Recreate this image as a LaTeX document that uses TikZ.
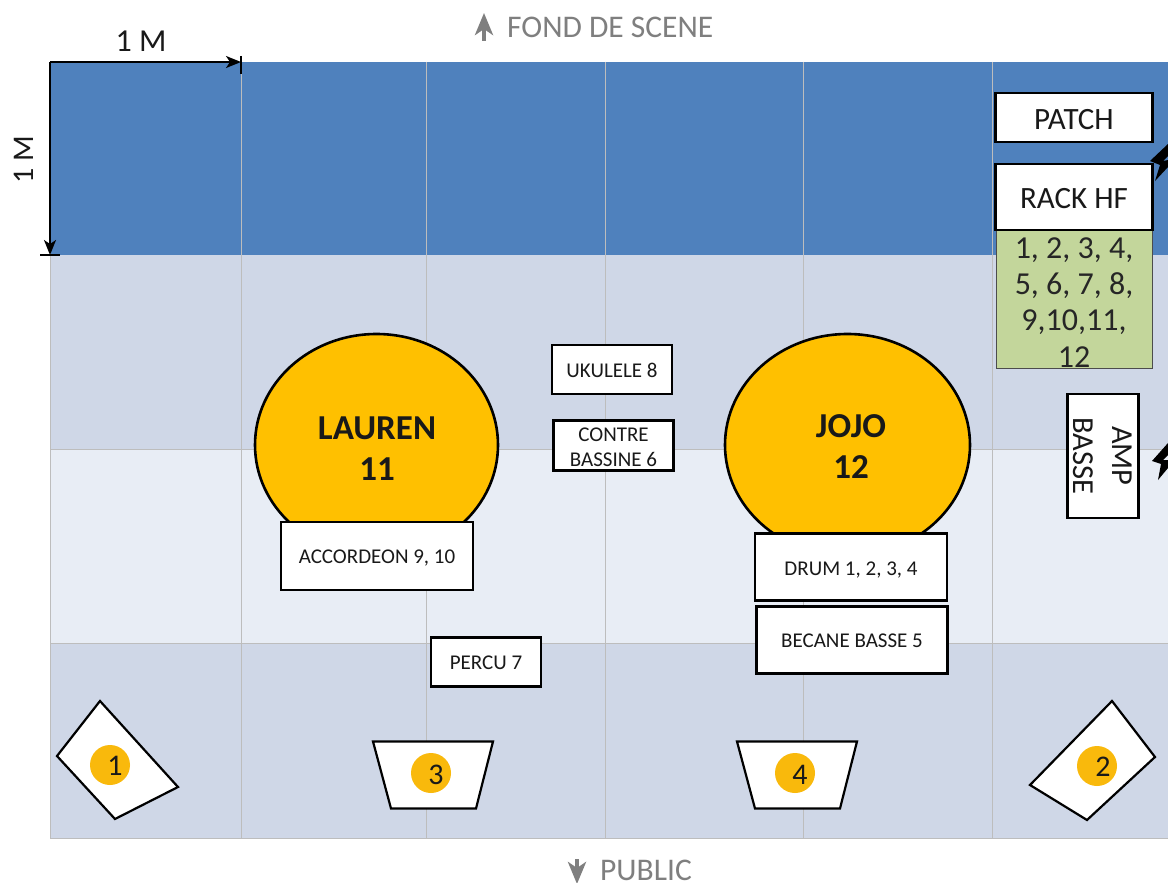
\documentclass[tikz,border=0pt]{standalone}
\usepackage{fontspec}
\setmainfont{Carlito}
\usetikzlibrary{arrows.meta,shapes.geometric}
\definecolor{band1}{HTML}{4F81BD}
\definecolor{band2}{HTML}{CFD7E7}
\definecolor{band3}{HTML}{E8EDF5}
\definecolor{gridc}{HTML}{BDBDBD}
\definecolor{amber}{HTML}{FFC000}
\definecolor{badgec}{HTML}{F9B90C}
\definecolor{greenb}{HTML}{C3D69B}
\definecolor{greyt}{HTML}{7F7F7F}
\newcommand{\dnt}[2]{\raisebox{-#1pt}[\height][\depth]{#2}}
\tikzset{
 boxn/.style={draw=black,line width=2.5pt,fill=white,align=center,inner sep=0pt,text=black!90},
 bign/.style={boxn,font=\fontsize{31}{38}\selectfont},
 smalln/.style={boxn,font=\fontsize{21}{25}\selectfont},
 person/.style={draw=black,line width=2.6pt,fill=amber,ellipse,inner sep=0pt},
 persont/.style={font=\fontsize{35}{41}\selectfont\bfseries,align=center,inner sep=0pt,text=black!90},
 monitor/.style={draw=black,line width=2.2pt,fill=white,line join=miter},
 badge/.style={circle,fill=badgec,inner sep=0pt,minimum size=40pt},
 numt/.style={inner sep=0pt,font=\fontsize{30}{32}\selectfont,text=black!90},
 gridl/.style={gridc,line width=0.9pt},
 dim/.style={black,line width=2pt,-{Stealth[length=15pt,width=12pt,inset=4pt]}},
 tick/.style={black,line width=2.4pt},
 dirl/.style={font=\fontsize{31.5}{34}\selectfont,text=greyt,inner sep=0pt},
 dirw/.style={greyt,line width=4.5pt,-{Stealth[length=22pt,width=18pt,inset=6pt]}},
 bolt/.style={fill=black,draw=none}
}
\begin{document}
\begin{tikzpicture}[x=1pt,y=-1pt]
\useasboundingbox (0,0) rectangle (1168,883);
\fill[white] (0,0) rectangle (1168,883);
% bands
\fill[band1] (50,62) rectangle (1168,255);
\fill[band2] (50,255) rectangle (1168,449.5);
\fill[band3] (50,449.5) rectangle (1168,643.5);
\fill[band2] (50,643.5) rectangle (1168,838);
% grid
\foreach \x in {50,241,426.5,605.5,803.5,992}{\draw[gridl] (\x,62) -- (\x,838);}
\foreach \y in {449.5,643.5,838}{\draw[gridl] (50,\y) -- (1168,\y);}
% dimensions
\coordinate (o) at (50,62);
\coordinate (ex) at (241,62);
\coordinate (ey) at (50,255);
\draw[dim] (o) -- (ex);
\draw[dim] (o) -- (ey);
\draw[tick] (241,56) -- (241,74);
\draw[tick] (40,255) -- (60,255);
\node[font=\fontsize{32}{34}\selectfont,inner sep=0pt,text=black!90] (mh) at (141,41) {1 M};
\node[font=\fontsize{30}{34}\selectfont,inner sep=0pt,rotate=90,text=black!90] (mv) at (24,160) {1 M};
% direction labels
\coordinate (fb) at (484,41);
\coordinate (ft) at (484,13);
\draw[dirw] (fb) -- (ft);
\node[dirl,anchor=west] (fond) at (507,27.5) {FOND DE SCENE};
\coordinate (pb) at (577,859);
\coordinate (pt) at (577,884);
\draw[dirw] (pb) -- (pt);
\node[dirl,anchor=base west] (public) at (600,880) {PUBLIC};
% persons
\node[person,minimum width=243pt,minimum height=222pt] (lauren) at (376.5,445) {};
\node[persont] (lt) at (377,449) {LAUREN\\11};
\node[person,minimum width=245pt,minimum height=222pt] (jojo) at (847.5,445) {};
\node[persont] (jt) at (851,447) {JOJO\\12};
% boxes
\node[smalln,minimum width=192pt,minimum height=68pt] (acc) at (377,556) {\dnt{2}{ACCORDEON 9, 10}};
\node[smalln,minimum width=192pt,minimum height=67pt] (drum) at (851,567) {\dnt{3}{DRUM 1, 2, 3, 4}};
\node[smalln,minimum width=191pt,minimum height=67pt] (bec) at (852,640) {\dnt{1}{BECANE BASSE 5}};
\node[smalln,minimum width=120pt,minimum height=49pt] (uku) at (612,369.5) {\dnt{1}{UKULELE 8}};
\node[smalln,minimum width=120pt,minimum height=50pt] (cb) at (613.5,445.5) {\dnt{2}{CONTRE}\\\dnt{2}{BASSINE 6}};
\node[smalln,minimum width=110pt,minimum height=49pt] (perc) at (486,662) {\dnt{1}{PERCU 7}};
% right
\node[draw=black!70,line width=1pt,fill=greenb,text=black!85,minimum width=156pt,minimum height=139pt,inner sep=0pt,align=center,font=\fontsize{32}{36}\selectfont] (chans) at (1074,299) {\dnt{3}{1, 2, 3, 4,}\\\dnt{3}{5, 6, 7, 8,}\\\dnt{3}{9,10,11,}\\\dnt{4}{12}};
\node[bign,minimum width=157pt,minimum height=49pt] (patch) at (1074,117.5) {\dnt{2}{PATCH}};
\node[bign,minimum width=157pt,minimum height=66pt] (rack) at (1074,197) {\dnt{2}{RACK HF}};
\node[boxn,minimum width=124pt,minimum height=71pt,rotate=-90,align=center,font=\fontsize{30.5}{39}\selectfont] (amp) at (1103,456) {AMP\\BASSE};
% bolts
\fill[bolt] (1150,161) -- (1168,144) -- (1168,156) -- (1163,161) -- (1168,160) -- (1168,167) -- (1155,181) -- (1160,165) -- cycle;
\fill[bolt] (1152,461) -- (1168,443) -- (1168,455) -- (1163,460) -- (1168,460) -- (1168,468) -- (1158,480) -- (1161,464) -- cycle;
% monitors
\draw[monitor] (100,701) -- (178,787) -- (115,819) -- (57,756) -- cycle;
\node[badge] (m1) at (110,765) {};
\node[numt] (n1) at (115,766) {1};
\draw[monitor] (373,741.5) -- (493,741.5) -- (476,808.5) -- (391,808.5) -- cycle;
\node[badge] (m3) at (431,773) {};
\node[numt] (n3) at (436,775) {3};
\draw[monitor] (737,741.5) -- (857,741.5) -- (840,808.5) -- (755,808.5) -- cycle;
\node[badge] (m4) at (795,773) {};
\node[numt] (n4) at (800,775) {4};
\draw[monitor] (1112,701) -- (1155,757) -- (1087,820) -- (1030,785) -- cycle;
\node[badge] (m2) at (1097,766) {};
\node[numt] (n2) at (1103,767) {2};
\end{tikzpicture}
\end{document}
